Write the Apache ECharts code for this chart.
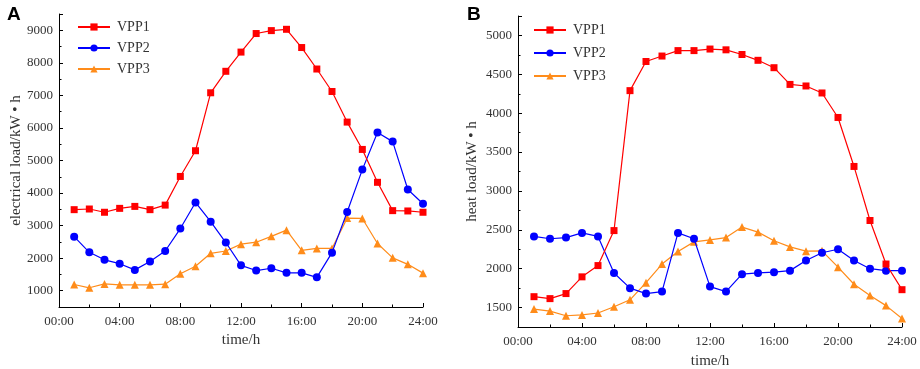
<!DOCTYPE html>
<html lang="en">
  <head>
    <meta charset="UTF-8" />
    <script src="https://cdn.jsdelivr.net/npm/echarts@6/dist/echarts.min.js"></script>
    <title>VPP load</title>
    <style>
      html, body { margin: 0; padding: 0; background: #fff; }
      #app { width: 920px; height: 369px; }
    </style>
  </head>
  <body>
    <div id="app"></div>
    <script>
      // hours 1..24
      const hours = [1, 2, 3, 4, 5, 6, 7, 8, 9, 10, 11, 12, 13, 14, 15, 16, 17, 18, 19, 20, 21, 22, 23, 24];
      const seriesNames = ["VPP1", "VPP2", "VPP3"];

      // A: electrical load
      const elecVPP1 = [3490, 3510, 3410, 3530, 3590, 3490, 3630, 4510, 5300, 7080, 7740, 8330, 8900, 8990, 9030, 8470, 7810, 7120, 6180, 5340, 4330, 3460, 3450, 3410];
      const elecVPP2 = [2660, 2180, 1950, 1830, 1640, 1900, 2220, 2910, 3710, 3120, 2480, 1780, 1620, 1690, 1550, 1550, 1410, 2170, 3420, 4720, 5860, 5580, 4110, 3670];
      const elecVPP3 = [1190, 1090, 1210, 1180, 1180, 1180, 1200, 1520, 1750, 2150, 2220, 2430, 2490, 2670, 2860, 2240, 2300, 2300, 3230, 3220, 2450, 2010, 1810, 1540];

      // B: heat load
      const heatVPP1 = [1640, 1615, 1680, 1895, 2040, 2490, 4290, 4665, 4735, 4805, 4805, 4825, 4815, 4755, 4680, 4585, 4370, 4350, 4260, 3945, 3315, 2620, 2060, 1730];
      const heatVPP2 = [2415, 2385, 2400, 2460, 2415, 1945, 1750, 1680, 1705, 2460, 2385, 1770, 1705, 1930, 1945, 1955, 1975, 2105, 2205, 2250, 2105, 2000, 1975, 1975];
      const heatVPP3 = [1480, 1455, 1395, 1405, 1430, 1510, 1600, 1820, 2060, 2220, 2345, 2370, 2400, 2535, 2470, 2360, 2280, 2225, 2230, 2020, 1800, 1655, 1525, 1360];

      const colors = ["#ff0000", "#0000ff", "#ff8c1a"];
      const symbols = ["rect", "circle", "triangle"];
      const symbolSizes = [7, 8, 8];
      const font = "Liberation Serif";

      const pairs = (ys) => hours.map((h, i) => [h, ys[i]]);
      const hh = (v) => (v < 10 ? "0" + v : "" + v) + ":00";

      function makeSeries(data, idx) {
        return data.map((ys, k) => ({
          name: seriesNames[k],
          type: "line",
          xAxisIndex: idx,
          yAxisIndex: idx,
          data: pairs(ys),
          symbol: symbols[k],
          symbolSize: symbolSizes[k],
          showAllSymbol: true,
          itemStyle: { color: colors[k] },
          lineStyle: { color: colors[k], width: 1.2 },
          emphasis: { disabled: true },
          animation: false,
          z: 3 - k,
        }));
      }

      const axisCommon = {
        axisLine: { show: true, lineStyle: { color: "#000", width: 1 } },
        axisTick: { show: true, inside: true, length: 4, lineStyle: { color: "#000" } },
        minorTick: { show: true, splitNumber: 2, length: 2.5, lineStyle: { color: "#000" } },
        splitLine: { show: false },
        axisLabel: { color: "#333", fontFamily: font, fontSize: 13 },
        nameTextStyle: { color: "#333", fontFamily: font, fontSize: 15 },
      };

      function xAxis(grid, gap) {
        return Object.assign({}, axisCommon, {
          type: "value",
          gridIndex: grid,
          min: 0,
          max: 24,
          interval: 4,
          name: "time/h",
          nameLocation: "middle",
          nameGap: gap,
          axisLabel: Object.assign({}, axisCommon.axisLabel, { margin: 8, formatter: hh }),
        });
      }

      function yAxis(grid, min, max, split, name, gap) {
        return Object.assign({}, axisCommon, {
          type: "value",
          gridIndex: grid,
          min: min,
          max: max,
          splitNumber: split,
          name: name,
          nameLocation: "middle",
          nameGap: gap,
          axisLabel: Object.assign({}, axisCommon.axisLabel, {
            margin: 6,
            showMinLabel: false,
            showMaxLabel: false,
            formatter: (v) => String(v),
          }),
        });
      }

      function legend(left, top, gap) {
        return {
          left: left,
          top: top,
          orient: "vertical",
          itemWidth: 32,
          itemHeight: 9,
          itemGap: gap,
          data: seriesNames,
          textStyle: { fontFamily: font, fontSize: 14, color: "#333", padding: [0, 0, 0, 2] },
          selectedMode: false,
        };
      }

      const chart = echarts.init(document.getElementById("app"));
      chart.setOption({
        animation: false,
        title: [
          { text: "A", left: 2, top: 0, textStyle: { fontFamily: "Liberation Sans", fontSize: 19, fontWeight: "bold", color: "#000" } },
          { text: "B", left: 462, top: 0, textStyle: { fontFamily: "Liberation Sans", fontSize: 19, fontWeight: "bold", color: "#000" } },
        ],
        legend: [legend(72, 15, 7), legend(528, 18, 9)],
        grid: [
          { left: 59, top: 14, width: 364, height: 293, outerBoundsMode: "none" },
          { left: 518, top: 16, width: 384, height: 311, outerBoundsMode: "none" },
        ],
        xAxis: [xAxis(0, 26), xAxis(1, 27)],
        yAxis: [
          yAxis(0, 500, 9500, 9, "electrical load/kW • h", 30),
          yAxis(1, 1250, 5250, 8, "heat load/kW • h", 38),
        ],
        series: makeSeries([elecVPP1, elecVPP2, elecVPP3], 0).concat(
          makeSeries([heatVPP1, heatVPP2, heatVPP3], 1)
        ),
      });
    </script>
  </body>
</html>
